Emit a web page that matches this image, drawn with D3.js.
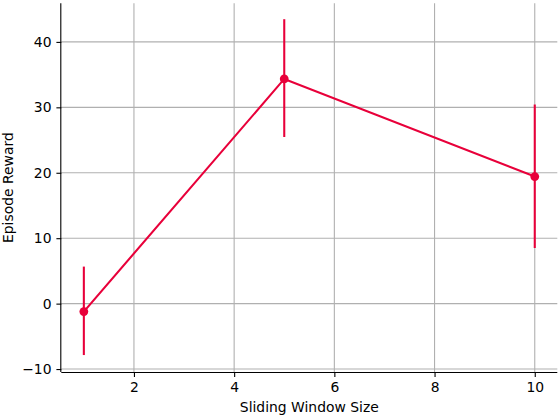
<!DOCTYPE html>
<meta charset="utf-8">
<style>
body { margin: 0; background: #fff; }
svg text { font-family: "DejaVu Sans", sans-serif; fill: #000; }
.tick text { font-size: 13.9px; }
.grid line { stroke: #b0b0b0; stroke-width: 1.1px; }
.axis path, .axis line { stroke: #000; stroke-width: 1.1px; }
</style>
<svg id="chart" width="560" height="418"></svg>
<script src="https://d3js.org/d3.v7.min.js"></script>
<script>
var windowSizes = [1, 5, 10];
var meanReward = [-1.22, 34.34, 19.42];
var errLow = [-7.86, 25.47, 8.5];
var errHigh = [5.66, 43.47, 30.43];
var xTicks = [2, 4, 6, 8, 10];
var yTicks = [-10, 0, 10, 20, 30, 40];
var lineColor = "#e8003a";

var svg = d3.select("#chart"),
    mLeft = 61.3, mRight = 557.3, mTop = 3.3, mBottom = 372;

var x = d3.scaleLinear().domain([0.55, 10.45]).range([mLeft, mRight]);
var y = d3.scaleLinear().domain([-10.45, 45.9]).range([mBottom, mTop]);

// grid
var grid = svg.append("g").attr("class", "grid");
grid.selectAll(".gx").data(xTicks).enter().append("line")
    .attr("x1", function(d) { return x(d); }).attr("x2", function(d) { return x(d); })
    .attr("y1", mTop).attr("y2", mBottom);
grid.selectAll(".gy").data(yTicks).enter().append("line")
    .attr("y1", function(d) { return y(d); }).attr("y2", function(d) { return y(d); })
    .attr("x1", mLeft).attr("x2", mRight);

// axes
var xAxis = svg.append("g").attr("class", "axis")
    .attr("transform", "translate(0," + mBottom + ")")
    .call(d3.axisBottom(x).tickValues(xTicks).tickSize(4.9).tickPadding(4.9).tickFormat(d3.format("d")));
xAxis.select(".domain").attr("d", "M" + mLeft + ",0.5H" + mRight);
xAxis.selectAll("text").attr("font-family", null).attr("font-size", null);

var yAxis = svg.append("g").attr("class", "axis")
    .attr("transform", "translate(" + mLeft + ",0)")
    .call(d3.axisLeft(y).tickValues(yTicks).tickSize(4.9).tickPadding(4.9)
        .tickFormat(function(d) { return d < 0 ? "\u2212" + Math.abs(d) : d; }));
yAxis.select(".domain").attr("d", "M-0.5," + mTop + "V" + mBottom);
yAxis.selectAll("text").attr("font-family", null).attr("font-size", null);

// error bars
svg.append("g").selectAll("line").data(windowSizes).enter().append("line")
    .attr("x1", function(d) { return x(d); }).attr("x2", function(d) { return x(d); })
    .attr("y1", function(d, i) { return y(errLow[i]); })
    .attr("y2", function(d, i) { return y(errHigh[i]); })
    .attr("stroke", lineColor).attr("stroke-width", 2.08);

// line
var line = d3.line()
    .x(function(d) { return x(d); })
    .y(function(d, i) { return y(meanReward[i]); });
svg.append("path").datum(windowSizes)
    .attr("d", line).attr("fill", "none")
    .attr("stroke", lineColor).attr("stroke-width", 2.08);

// markers
svg.append("g").selectAll("circle").data(windowSizes).enter().append("circle")
    .attr("cx", function(d) { return x(d); })
    .attr("cy", function(d, i) { return y(meanReward[i]); })
    .attr("r", 4.4).attr("fill", lineColor);

// labels
svg.append("text").attr("x", (mLeft + mRight) / 2).attr("y", 411.5)
    .attr("text-anchor", "middle").attr("font-size", "13.9px").text("Sliding Window Size");
svg.append("text").attr("transform", "translate(13," + (mTop + mBottom) / 2 + ") rotate(-90)")
    .attr("text-anchor", "middle").attr("font-size", "13.9px").text("Episode Reward");
</script>
